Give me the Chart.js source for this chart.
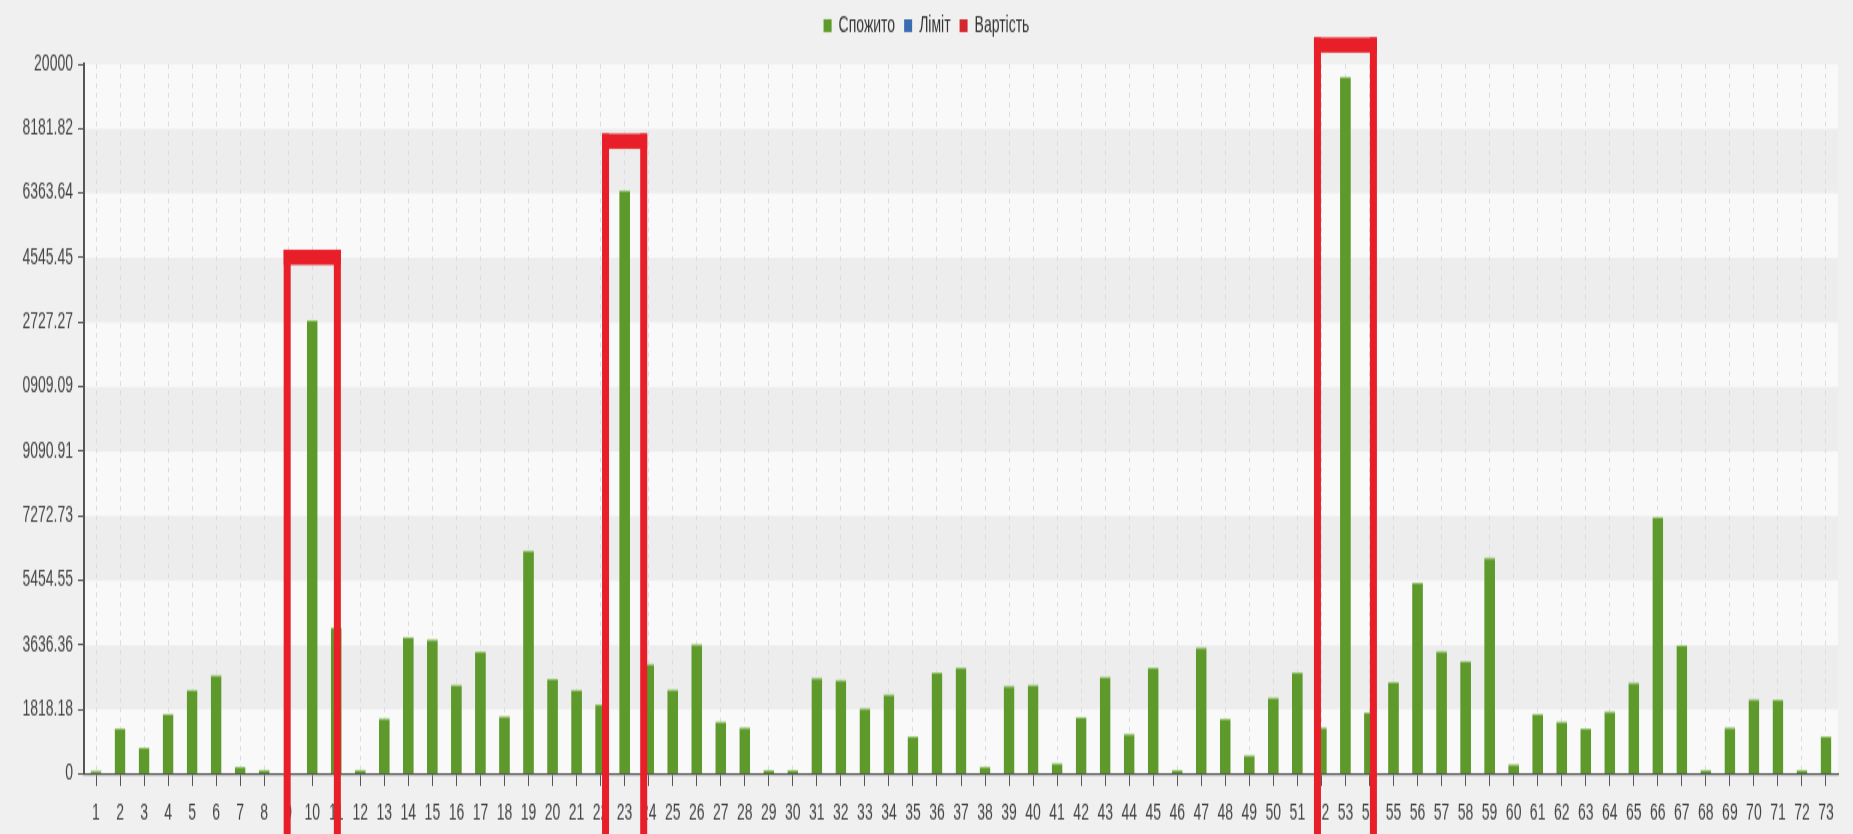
<!DOCTYPE html>
<html>
<head>
<meta charset="utf-8">
<script src="https://cdn.jsdelivr.net/npm/chart.js@4.4.1/dist/chart.umd.min.js"></script>
<style>
  html { margin: 0; padding: 0; background: #f0f0f0; overflow: hidden; }
  body { margin: 0; padding: 0; width: 1853px; height: 834px; background: #f0f0f0; }
  /* The report renders its chart on a short canvas that is stretched to full height */
  #wrap {
    width: 1853px;
    height: 521px;
    position: relative;
    transform: scaleY(1.6008);
    transform-origin: 0 0;
  }
</style>
</head>
<body>
<div id="wrap"><canvas id="chart"></canvas></div>
<script>
// Day numbers on the horizontal axis
const categories = ['1','2','3','4','5','6','7','8','9','10','11','12','13','14','15','16','17','18','19','20',
  '21','22','23','24','25','26','27','28','29','30','31','32','33','34','35','36','37','38','39','40',
  '41','42','43','44','45','46','47','48','49','50','51','52','53','54','55','56','57','58','59','60',
  '61','62','63','64','65','66','67','68','69','70','71','72','73'];

// Consumption per day
const consumed = [100,1300,740,1700,2380,2800,200,120,0,12780,
  4130,120,1580,3870,3800,2530,3450,1630,6300,2680,
  2380,1970,16450,3110,2390,3660,1490,1320,110,110,
  2720,2660,1860,2260,1070,2860,3010,210,2490,2530,
  320,1610,2750,1140,3000,110,3570,1570,540,2170,
  2870,1320,19650,1750,2590,5400,3470,3190,6100,280,
  1700,1490,1290,1770,2580,7250,3630,120,1320,2120,
  2100,110,1070];

// Limit and cost series (no values recorded for this period)
const limit = [];
const cost = [];

// Vertical axis labels, as printed by the source report
const yTickLabels = ['0','1818.18','3636.36','5454.55','7272.73','9090.91','0909.09','2727.27','4545.45','6363.64','8181.82','20000'];
const yMax = 20000;

// Highlighted days and the value where each frame starts
const highlightDays = ['10','23','53'];
const highlightTops = [14770, 18040, 20750];
const highlightSpans = [1.19, 0.94, 1.31]; // half-width, in days

const FONT = "'Liberation Sans', Arial, sans-serif";

// Extra room between the legend and the plot
const legendGapPlugin = {
  id: 'legendGap',
  afterInit(chart) {
    const lg = chart.legend;
    if (!lg) return;
    const fit = lg.fit;
    lg.fit = function () { fit.call(this); this.height += 7; };
  }
};

// Alternating horizontal bands behind the bars
const bandsPlugin = {
  id: 'bands',
  beforeDraw(chart) {
    const { ctx, chartArea, scales } = chart;
    const y = scales.y;
    const ticks = y.ticks;
    ctx.save();
    for (let i = 0; i < ticks.length - 1; i++) {
      const yb = y.getPixelForValue(ticks[i].value);
      const yt = y.getPixelForValue(ticks[i + 1].value);
      ctx.fillStyle = (i % 2 === 0) ? '#f9f9f9' : '#ededed';
      ctx.fillRect(chartArea.left, yt, chartArea.right - chartArea.left, yb - yt);
    }
    ctx.restore();
  }
};

// Red frames around the highlighted days
const framesPlugin = {
  id: 'frames',
  afterDraw(chart) {
    const { ctx, scales } = chart;
    const x = scales.x, y = scales.y;
    const step = x.getPixelForValue(1) - x.getPixelForValue(0);
    ctx.save();
    ctx.fillStyle = '#e81f29';
    highlightDays.forEach((day, i) => {
      const cx = x.getPixelForValue(categories.indexOf(day));
      const left = cx - highlightSpans[i] * step;
      const right = cx + highlightSpans[i] * step;
      const top = y.getPixelForValue(highlightTops[i]);
      const bottom = chart.height + 5;
      const side = 7, cap = 9.5;
      ctx.fillRect(left, top, right - left, cap);
      ctx.fillRect(left, top, side, bottom - top);
      ctx.fillRect(right - side, top, side, bottom - top);
    });
    ctx.restore();
  }
};

new Chart(document.getElementById('chart'), {
  type: 'bar',
  data: {
    labels: categories,
    datasets: [
      {
        label: 'Спожито',
        data: consumed,
        backgroundColor: '#5e992b',
        borderColor: '#93c56a',
        borderWidth: { top: 1, left: 0, right: 0, bottom: 0 },
        borderSkipped: 'bottom'
      },
      { label: 'Ліміт', data: limit, backgroundColor: '#3a6cb3', borderWidth: 0 },
      { label: 'Вартість', data: cost, backgroundColor: '#d3262d', borderWidth: 0 }
    ]
  },
  options: {
    responsive: true,
    maintainAspectRatio: false,
    animation: false,
    layout: { padding: { left: 15, right: 15, top: 0, bottom: 0 } },
    datasets: { bar: { grouped: false, categoryPercentage: 1, barPercentage: 0.45 } },
    plugins: {
      legend: {
        position: 'top',
        labels: {
          boxWidth: 8,
          boxHeight: 8,
          padding: 9,
          color: '#333',
          font: { family: FONT, size: 14 }
        }
      },
      tooltip: { enabled: false }
    },
    scales: {
      x: {
        grid: {
          offset: false,
          color: '#dcdcdc',
          tickColor: '#555',
          tickLength: 7.5,
          lineWidth: 1
        },
        border: { display: true, color: '#555', width: 1.3, dash: [3, 3] },
        ticks: {
          autoSkip: false,
          maxRotation: 0,
          padding: 8.5,
          color: '#444',
          font: { family: FONT, size: 14 }
        },
        afterFit(scale) { scale.height = 37.5; }
      },
      y: {
        min: 0,
        max: yMax,
        grid: { drawOnChartArea: false, tickColor: '#555', tickLength: 6 },
        border: { display: true, color: '#555', width: 2 },
        ticks: {
          stepSize: yMax / 11,
          padding: 5,
          color: '#444',
          font: { family: FONT, size: 14 },
          callback: (value, index) => yTickLabels[index]
        },
        afterFit(scale) { scale.width = 69; }
      }
    }
  },
  plugins: [legendGapPlugin, bandsPlugin, framesPlugin]
});
</script>
</body>
</html>
